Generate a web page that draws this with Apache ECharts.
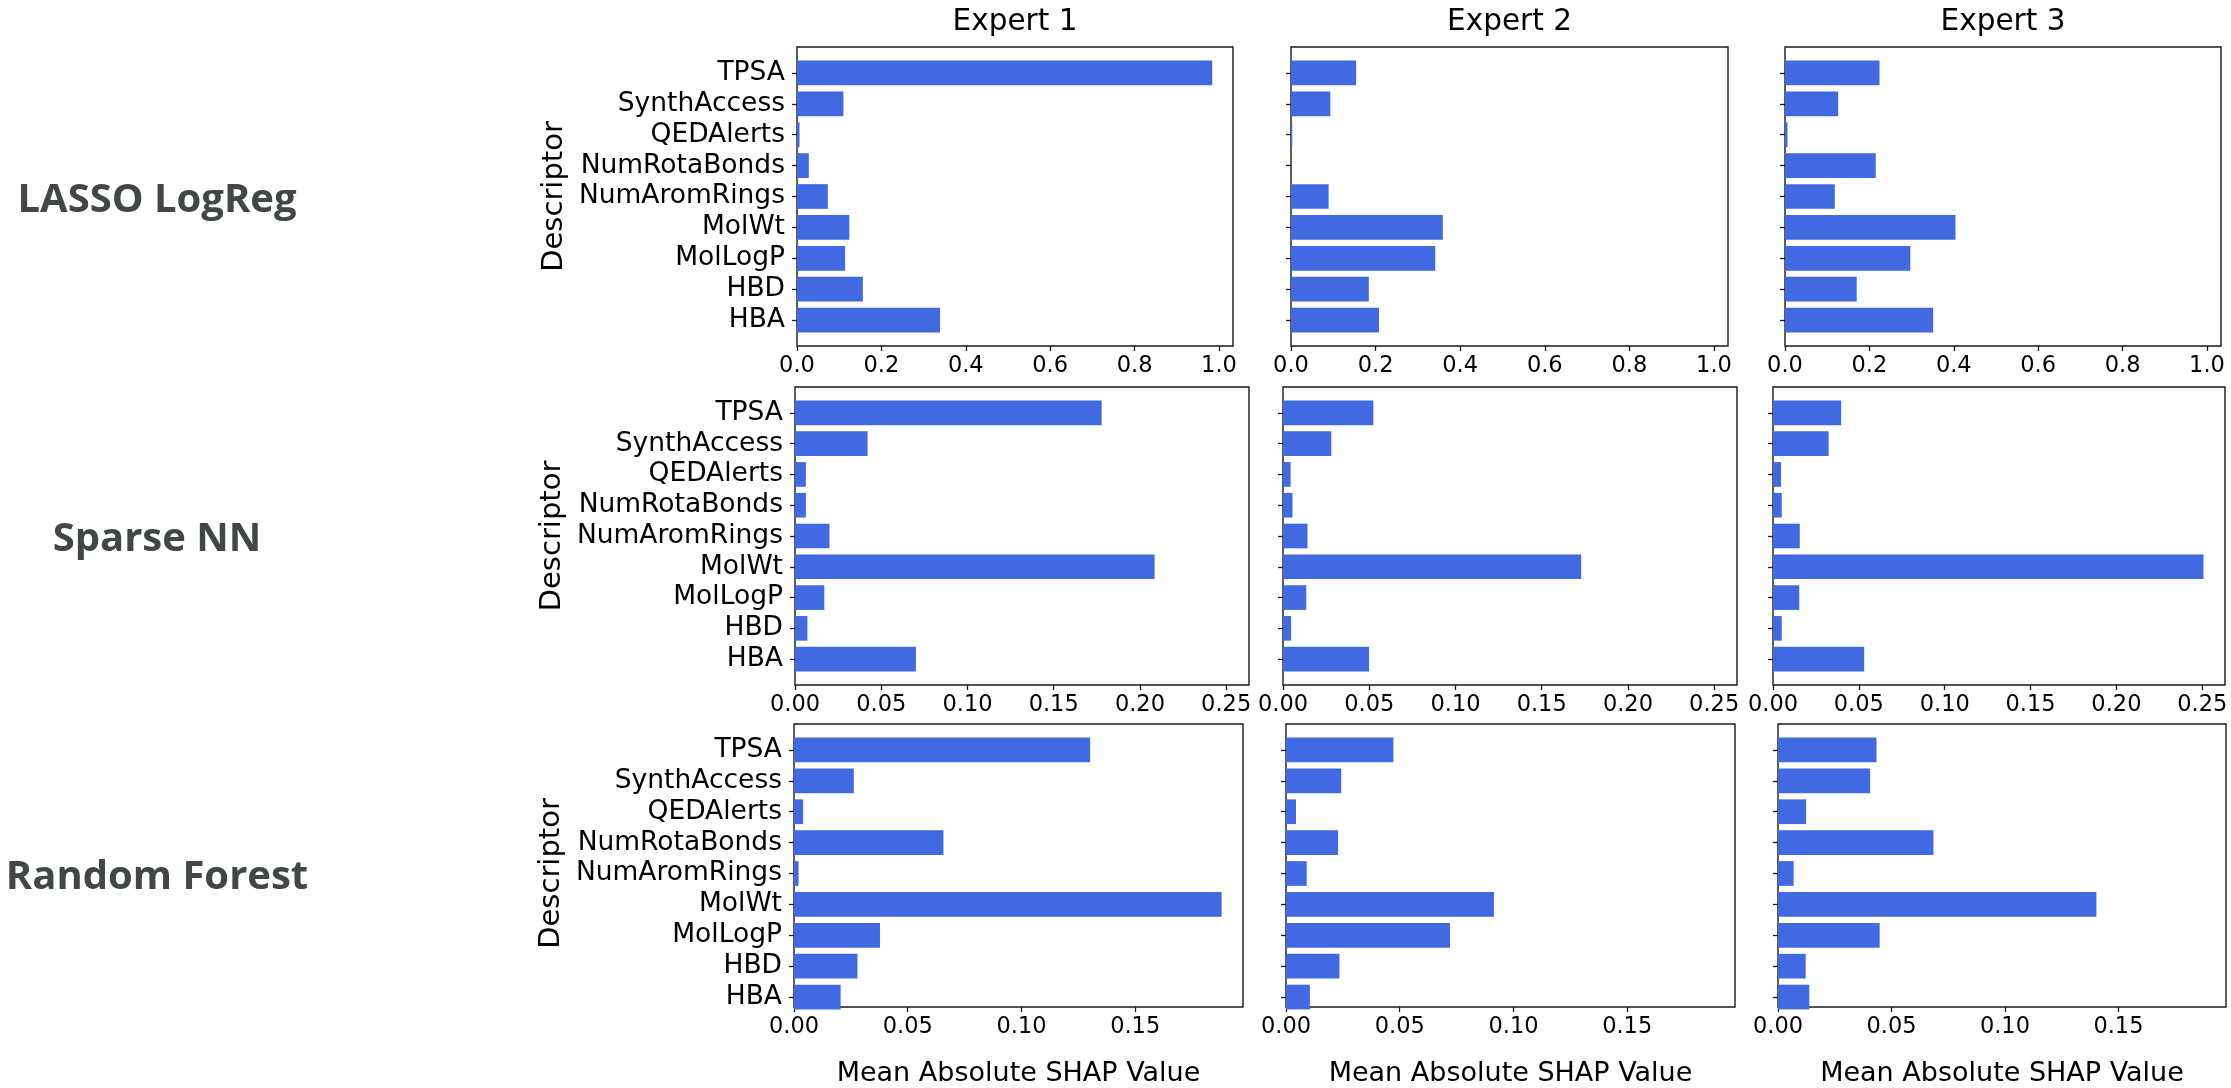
<!DOCTYPE html>
<html>
<head>
<meta charset="utf-8">
<script src="https://cdn.jsdelivr.net/npm/echarts@6/dist/echarts.min.js"></script>
<style>
  html, body { margin: 0; padding: 0; background: #fff; }
  #chart { width: 2231px; height: 1088px; }
</style>
</head>
<body>
<div id="chart"></div>
<script>
// Descriptors, listed bottom to top as they appear on each y axis
const descriptors = ['HBA', 'HBD', 'MolLogP', 'MolWt', 'NumAromRings', 'NumRotaBonds', 'QEDAlerts', 'SynthAccess', 'TPSA'];
const experts = ['Expert 1', 'Expert 2', 'Expert 3'];
const models = ['LASSO LogReg', 'Sparse NN', 'Random Forest'];

// Mean absolute SHAP values per model and expert (same order as descriptors)
const lassoExpert1 = [0.339, 0.156, 0.114, 0.124, 0.073, 0.028, 0.006, 0.110, 0.984];
const lassoExpert2 = [0.208, 0.184, 0.341, 0.359, 0.089, 0.000, 0.003, 0.093, 0.154];
const lassoExpert3 = [0.351, 0.170, 0.297, 0.404, 0.118, 0.215, 0.006, 0.126, 0.224];

const sparseExpert1 = [0.0701, 0.0072, 0.0170, 0.2085, 0.0200, 0.0063, 0.0063, 0.0421, 0.1778];
const sparseExpert2 = [0.0499, 0.0047, 0.0135, 0.1729, 0.0142, 0.0055, 0.0044, 0.0280, 0.0524];
const sparseExpert3 = [0.0531, 0.0051, 0.0153, 0.2507, 0.0156, 0.0051, 0.0047, 0.0324, 0.0397];

const forestExpert1 = [0.0205, 0.0279, 0.0378, 0.1880, 0.0020, 0.0657, 0.0040, 0.0263, 0.1302];
const forestExpert2 = [0.0105, 0.0235, 0.0721, 0.0914, 0.0091, 0.0229, 0.0044, 0.0243, 0.0472];
const forestExpert3 = [0.0138, 0.0122, 0.0448, 0.1403, 0.0069, 0.0685, 0.0124, 0.0406, 0.0434];

// x-axis tick labels per model row
const lassoTicks = [0, 0.2, 0.4, 0.6, 0.8, 1.0];
const sparseTicks = [0, 0.05, 0.10, 0.15, 0.20, 0.25];
const forestTicks = [0, 0.05, 0.10, 0.15];

const rowValues = [
  [lassoExpert1, lassoExpert2, lassoExpert3],
  [sparseExpert1, sparseExpert2, sparseExpert3],
  [forestExpert1, forestExpert2, forestExpert3]
];
const rowTicks = [lassoTicks, sparseTicks, forestTicks];
const rowDecimals = [1, 2, 2];
// shared x range per row: 5% padding beyond the largest bar in the row
const rowMax = rowValues.map(r => Math.max(...r.flat()) * 1.05);

// ---- layout (pixels) ----
const rowTop = [47, 387, 724];
const rowBottom = [346, 685, 1023];
const colSpan = [
  [[797, 1233], [1291, 1728], [1785, 2221]],
  [[795, 1249], [1283, 1737], [1773, 2225]],
  [[794, 1243], [1286, 1735], [1778, 2226]]
];
const BAR_COLOR = '#4169E1';
const FRAME = '#1a1a1a';
const TICK_FONT = 'DejaVu Sans';

const grid = [], xAxis = [], yAxis = [], series = [], graphic = [];

for (let r = 0; r < 3; r++) {
  const top = rowTop[r], h = rowBottom[r] - rowTop[r];
  // bars of height 0.8 with 5% margins -> 9.68 category units over the frame
  const inset = h * 0.34 / 9.68;
  for (let c = 0; c < 3; c++) {
    const [x0, x1] = colSpan[r][c];
    const w = x1 - x0;
    const frameIdx = grid.length;
    grid.push({ left: x0, top: top, width: w, height: h, show: true,
      borderColor: FRAME, borderWidth: 1.4, backgroundColor: 'transparent', containLabel: false });
    const dataIdx = grid.length;
    grid.push({ left: x0, top: top + inset, width: w, height: h - 2 * inset, containLabel: false });

    const dec = rowDecimals[r];
    const ticks = rowTicks[r];
    xAxis.push({
      gridIndex: frameIdx, type: 'value', min: 0, max: rowMax[r],
      splitLine: { show: false },
      axisLine: { show: false },
      axisTick: { show: true, inside: false, length: 5, customValues: ticks,
        lineStyle: { color: FRAME, width: 1.3 } },
      axisLabel: { show: true, margin: 9, customValues: ticks, fontFamily: TICK_FONT,
        fontSize: 22.5, color: '#000',
        formatter: v => v.toFixed(dec) },
      name: r === 2 ? 'Mean Absolute SHAP Value' : '',
      nameLocation: 'middle', nameGap: 53,
      nameTextStyle: { fontFamily: TICK_FONT, fontSize: 27, color: '#000' }
    });
    yAxis.push({ gridIndex: frameIdx, type: 'value', min: 0, max: 1, show: false });

    xAxis.push({ gridIndex: dataIdx, type: 'value', min: 0, max: rowMax[r], show: false });
    yAxis.push({
      gridIndex: dataIdx, type: 'category', data: descriptors,
      axisLine: { show: false },
      axisTick: { show: true, alignWithLabel: true, interval: 0, length: 5, inside: false,
        lineStyle: { color: FRAME, width: 1.3 } },
      axisLabel: { show: c === 0, interval: 0, margin: 12, fontFamily: TICK_FONT,
        fontSize: 26.5, color: '#000' },
      splitLine: { show: false },
      name: c === 0 ? 'Descriptor' : '',
      nameLocation: 'middle', nameGap: 228,
      nameTextStyle: { fontFamily: TICK_FONT, fontSize: 29, color: '#000' }
    });

    series.push({
      type: 'bar', xAxisIndex: xAxis.length - 1, yAxisIndex: yAxis.length - 1,
      data: rowValues[r][c], barWidth: '80%',
      itemStyle: { color: BAR_COLOR }, silent: true, animation: false
    });

    if (r === 0) {
      graphic.push({ type: 'text', x: x0 + w / 2, y: 37,
        style: { text: experts[c], textAlign: 'center', textVerticalAlign: 'bottom',
          font: '29.5px "DejaVu Sans"', fill: '#000' } });
    }
  }
  // model name to the left of each row
  graphic.push({ type: 'text', x: 157, y: top + h / 2 + 4,
    style: { text: models[r], textAlign: 'center', textVerticalAlign: 'middle',
      font: 'bold 40px "Open Sans"', fill: '#414647' } });
}

const chart = echarts.init(document.getElementById('chart'), null, { renderer: 'canvas' });
chart.setOption({
  animation: false,
  backgroundColor: '#fff',
  grid, xAxis, yAxis, series, graphic
});
</script>
</body>
</html>
